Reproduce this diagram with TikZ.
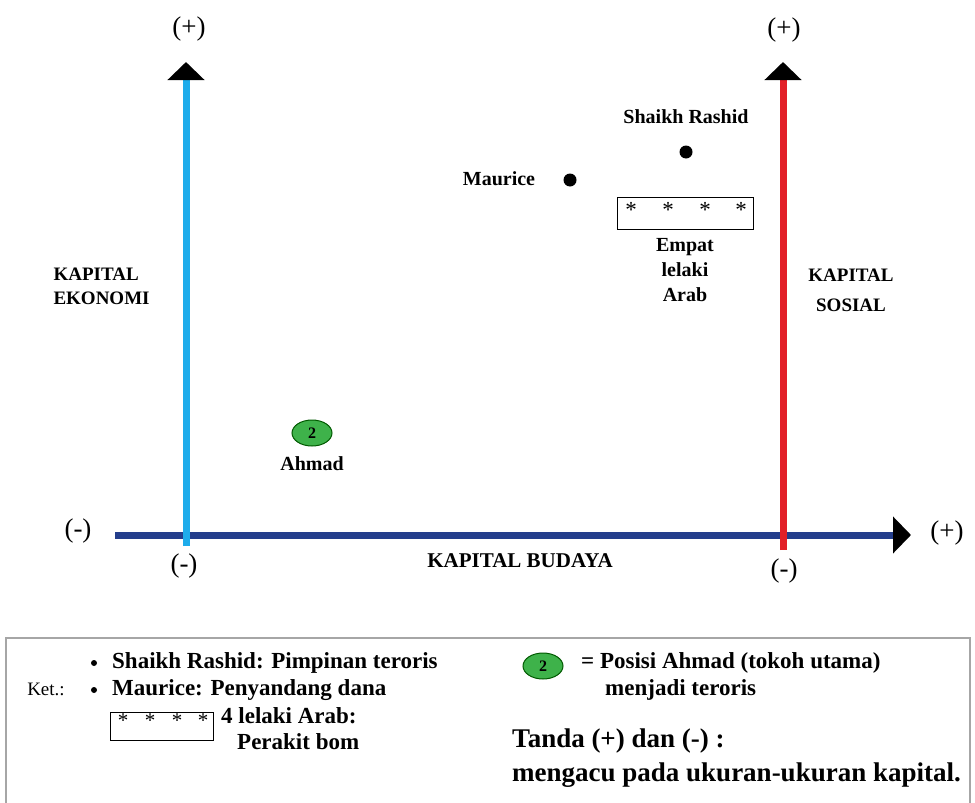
\documentclass[tikz,border=0pt]{standalone}
\usepackage{fontspec}
\setmainfont{Liberation Serif}
\usetikzlibrary{arrows.meta,positioning,shapes.geometric}
\definecolor{ekocyan}{RGB}{30,172,235}
\definecolor{sosred}{RGB}{226,32,40}
\definecolor{budblue}{RGB}{36,62,140}
\definecolor{ahmadgreen}{RGB}{62,178,74}
\tikzset{
      axis/.style = {line width=7pt, -{Triangle[width=36pt,length=18pt,color=black]}},
      sign/.style = {font=\fontsize{27}{27}\selectfont},
      axislabel/.style = {font=\bfseries\fontsize{19}{24}\selectfont, align=center},
      who/.style = {font=\bfseries\fontsize{20}{25}\selectfont, align=center},
      person/.style = {circle, fill=black, inner sep=0pt, minimum size=13pt},
      asterisk/.style = {font=\fontsize{23}{23}\selectfont, inner sep=0pt},
      ahmadmark/.style = {ellipse, draw=green!35!black, fill=ahmadgreen, line width=1pt,
            minimum width=40pt, minimum height=26pt, inner sep=0pt,
            font=\bfseries\fontsize{16}{16}\selectfont},
      legtext/.style = {anchor=west, font=\bfseries\fontsize{23}{23}\selectfont, inner sep=0pt},
      bigtext/.style = {anchor=west, font=\bfseries\fontsize{27}{27}\selectfont, inner sep=0pt},
      legdot/.style = {circle, fill=black, inner sep=0pt, minimum size=6pt},
    }

\begin{document}
\begin{tikzpicture}[x=1pt,y=-1pt]
        \useasboundingbox (0,0) rectangle (975,803);
        \coordinate (budleft)  at (115,535);
        \coordinate (budright) at (911,535);
        \coordinate (ekobot)   at (186,546);
        \coordinate (ekotop)   at (186,62);
        \coordinate (sosbot)   at (783,550);
        \coordinate (sostop)   at (783,62);

        \draw[axis, budblue] (budleft) -- (budright);
        \draw[axis, ekocyan] (ekobot) -- (ekotop);
        \draw[axis, sosred] (sosbot) -- (sostop);

        \node[sign] (ekoplus) at (189,29) {(+)};
        \node[sign] (sosplus) at (784,30) {(+)};
        \node[sign] (budplus) at (947,533) {(+)};
        \node[sign] (budminus) at (78,531) {(-)};
        \node[sign] (ekominus) at (184,566) {(-)};
        \node[sign] (sosminus) at (784,571) {(-)};

        \node[axislabel, align=left, anchor=west] (eko) at (50,286) {KAPITAL\\EKONOMI};
        \node[axislabel, font=\bfseries\fontsize{19}{30}\selectfont] (sos) at (851,290) {KAPITAL\\SOSIAL};
        \node[axislabel, font=\bfseries\fontsize{21}{24}\selectfont] (bud) at (520,561) {KAPITAL BUDAYA};

        \node[who] (rashidname) at (686,117) {Shaikh Rashid};
        \node[person] (rashid) at (686,152) {};
        \node[who] (mauricename) at (499,179) {Maurice};
        \node[person] (maurice) at (570,180) {};

        \node[draw, line width=1pt, minimum width=136pt, minimum height=32pt] (arabbox) at (685,213) {};
        \foreach \x [count=\i] in {631,668,705,741}
            \node[asterisk] (ast\i) at (\x,210) {*};
        \node[who] (arab) [below=5pt of arabbox] {Empat\\lelaki\\Arab};

        \node[ahmadmark] (ahmad) at (312,433) {2};
        \node[who] (ahmadname) [below=7pt of ahmad] {Ahmad};

        \draw[gray!70, line width=2pt] (6,810) -- (6,638) -- (970,638) -- (970,810);
        \node[font=\fontsize{19}{19}\selectfont] (ket) at (46,689) {Ket.:};
        \node[legdot] (d1) at (94,663) {};
        \node[legtext] (l1) at (112,663) {Shaikh Rashid: Pimpinan teroris};
        \node[legdot] (d2) at (94,690) {};
        \node[legtext] (l2) at (112,690) {Maurice: Penyandang dana};
        \node[draw, line width=1pt, minimum width=103pt, minimum height=28pt] (legbox) at (162,726) {};
        \foreach \x [count=\i] in {123,150,177,203}
            \node[asterisk, font=\fontsize{21}{21}\selectfont] (la\i) at (\x,721) {*};
        \node[legtext] (l3) at (221,716) {4 lelaki Arab:};
        \node[legtext] (l4) at (237,742) {Perakit bom};

        \node[ahmadmark] (legahmad) at (543,666) {2};
        \node[legtext] (l5) at (581,663) {= Posisi Ahmad (tokoh utama)};
        \node[legtext] (l6) at (605,690) {menjadi teroris};
        \node[bigtext] (tanda) at (512,741) {Tanda (+) dan (-) :};
        \node[bigtext] (acu) at (512,775) {mengacu pada ukuran-ukuran kapital.};
\end{tikzpicture}
\end{document}
